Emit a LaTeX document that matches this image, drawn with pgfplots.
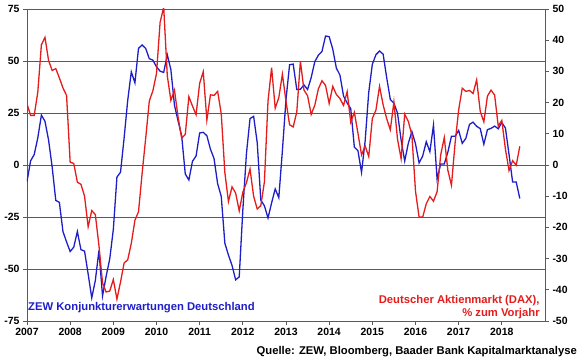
\documentclass[border=0pt]{standalone}
\usepackage{fontspec}
\setmainfont{Liberation Sans}
\usepackage{pgfplots}
\pgfplotsset{compat=1.18}
\usepackage{pgfplotstable}
\definecolor{zewblue}{RGB}{30,30,200}
\definecolor{daxred}{RGB}{228,28,28}
\definecolor{gridgray}{RGB}{90,90,90}
\pgfplotstableread{
m zew dax
0 -8 19.6
1 2 15.9
2 5 15.9
3 13 23.3
4 24 38.5
5 21 40.9
6 12 33.5
7 -1 30.3
8 -17 30.9
9 -18 27.9
10 -32 24.7
11 -37 22.3
12 -41.6 0.9
13 -39.5 0.5
14 -32.0 -5.5
15 -40.7 -6.2
16 -41.4 -10.0
17 -52.4 -19.8
18 -63.9 -14.6
19 -55.5 -15.9
20 -41.1 -25.8
21 -63.0 -37.8
22 -53.5 -40.7
23 -45.2 -40.4
24 -31.0 -36.7
25 -5.8 -43.0
26 -3.5 -37.5
27 13.0 -31.4
28 31.1 -30.4
29 44.8 -25.1
30 39.5 -17.7
31 56.1 -15.0
32 57.7 -2.7
33 56.0 8.6
34 51.1 20.5
35 50.4 23.8
36 47.2 29.3
37 45.1 45.7
38 44.5 50.6
39 53.0 28.6
40 45.8 20.7
41 28.7 24.0
42 21.2 15.3
43 14.0 8.6
44 -4.3 9.8
45 -7.2 21.9
46 1.8 18.9
47 4.3 16.1
48 15.4 26.2
49 15.7 29.9
50 14.1 14.4
51 7.6 22.5
52 3.1 22.3
53 -9.0 23.6
54 -15.1 16.4
55 -37.6 -2.4
56 -43.3 -11.7
57 -48.3 -7.0
58 -55.2 -9.0
59 -53.8 -14.7
60 -21.6 -8.7
61 5.4 -5.7
62 22.3 -1.3
63 23.4 -10.0
64 10.8 -14.1
65 -16.9 -13.0
66 -19.6 -5.4
67 -25.5 20.5
68 -18.2 31.2
69 -11.5 18.2
70 -15.7 21.6
71 6.9 29.1
72 31.5 20.4
73 48.2 12.9
74 48.5 12.2
75 36.3 17.0
76 36.4 33.3
77 38.5 24.0
78 36.3 22.2
79 42.0 16.2
80 49.6 19.1
81 52.8 24.4
82 54.6 27.0
83 62.0 25.5
84 61.7 19.7
85 55.7 25.2
86 46.6 22.6
87 43.2 21.3
88 33.1 19.1
89 29.8 23.5
90 27.1 13.7
91 8.6 16.9
92 6.9 10.2
93 -3.6 3.2
94 11.5 6.1
95 34.9 2.7
96 48.4 14.9
97 53.0 17.6
98 54.8 25.2
99 53.3 19.3
100 41.9 14.8
101 31.5 11.3
102 29.7 20.2
103 25.0 8.3
104 12.1 2.0
105 1.9 16.3
106 10.4 14.0
107 16.1 9.6
108 10.2 -8.4
109 1.0 -16.7
110 4.3 -16.7
111 11.2 -12.4
112 6.4 -10.1
113 19.2 -11.6
114 -6.8 -8.6
115 0.5 3.2
116 0.5 8.8
117 6.2 -1.7
118 13.8 -6.5
119 13.8 6.9
120 16.6 17.7
121 10.4 24.6
122 12.8 23.6
123 19.5 23.9
124 20.6 22.9
125 18.6 27.3
126 17.5 17.2
127 10.0 13.8
128 17.0 22.1
129 17.6 24.0
130 18.7 22.4
131 17.4 12.5
132 20.4 14.3
133 17.8 5.1
134 5.1 -1.8
135 -8.2 1.4
136 -8.2 -0.1
137 -16.1 6.0
}\data
\begin{document}
\begin{tikzpicture}
\pgfplotsset{every axis/.append style={
  at={(0,0)}, anchor=south west, scale only axis, width=518bp, height=312bp,
  xmin=2007, xmax=2019,
  tick align=outside, major tick length=4bp,
  axis line style={gridgray, line width=0.9bp},
  tick style={gridgray, line width=0.9bp},
  ticklabel style={font=\fontsize{10.5}{12}\selectfont\bfseries},
  /pgf/number format/assume math mode=true,
}}
\begin{axis}[
  ymin=-75, ymax=75,
  xtick={2007,...,2018}, ytick={-75,-50,...,75},
  xticklabel style={/pgf/number format/1000 sep={}},
  axis x line*=bottom, axis y line*=left,
  ymajorgrids, grid style={gridgray, line width=0.9bp},
]
\addplot[zewblue, line width=1.3bp] table[x expr=2007+\thisrow{m}/12, y=zew] {\data};
\node[anchor=west, inner sep=0pt, text=zewblue, font=\fontsize{11.3}{13}\selectfont\bfseries] at (rel axis cs:0.002,0.042) {ZEW Konjunkturerwartungen Deutschland};
\node[anchor=east, inner sep=0pt, text=daxred, font=\fontsize{11.3}{13}\selectfont\bfseries] at (rel axis cs:0.99,0.067) {Deutscher Aktienmarkt (DAX),};
\node[anchor=east, inner sep=0pt, text=daxred, font=\fontsize{11.3}{13}\selectfont\bfseries] at (rel axis cs:0.99,0.025) {\% zum Vorjahr};
\end{axis}
\begin{axis}[
  ymin=-50, ymax=50, ytick={-50,-40,...,50},
  axis y line*=right, hide x axis,
]
\addplot[daxred, line width=1.3bp] table[x expr=2007+\thisrow{m}/12, y=dax] {\data};
\end{axis}
\node[anchor=east, inner sep=0pt, font=\fontsize{11.3}{13}\selectfont\bfseries] at (550bp,-31bp) {Quelle: ZEW, Bloomberg, Baader Bank Kapitalmarktanalyse};
\pgfresetboundingbox
\path (-27bp,-38bp) rectangle (553bp,321bp);
\end{tikzpicture}
\end{document}
